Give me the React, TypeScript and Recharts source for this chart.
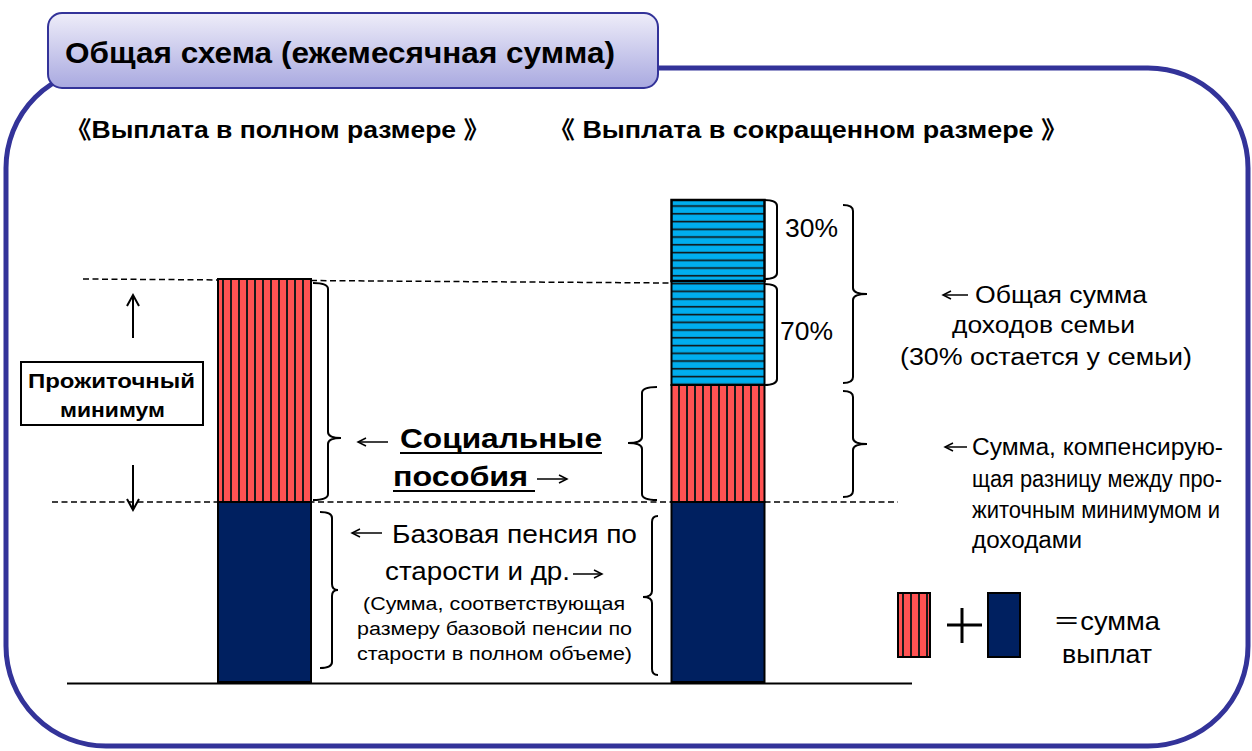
import React from 'react';
import { Bar, BarChart, XAxis, YAxis } from 'recharts';

// две схемы выплаты
const categories = ['Выплата в полном размере', 'Выплата в сокращенном размере'];
// высоты сегментов столбцов (условные единицы, снизу вверх)
const basePension = [180, 180];
const socialBenefit = [223, 117];
const familyIncome70 = [0, 104];
const familyIncome30 = [0, 81];

const rows = categories.map((name, i) => ({
  name,
  base: basePension[i],
  social: socialBenefit[i],
  fam70: familyIncome70[i] || null,
  fam30: familyIncome30[i] || null,
}));

const W = 1252;
const H = 751;
const MARGIN = { top: 182, right: 307, bottom: 69, left: 38 };
const Y_MAX = 500;
const plotH = H - MARGIN.top - MARGIN.bottom;
const yOf = (v: number) => MARGIN.top + plotH * (1 - v / Y_MAX);

const FONT = "'Liberation Sans', Arial, 'Noto Sans CJK JP', sans-serif";
const NAVY = '#002060';
const FRAME = '#333399';

type TProps = { x: number; y: number; w?: number; size: number; bold?: boolean; children: React.ReactNode };
function T({ x, y, w, size, bold, children }: TProps) {
  return (
    <text
      x={x}
      y={y}
      fontSize={size}
      fontWeight={bold ? 'bold' : 'normal'}
      fontFamily={FONT}
      fill="#000"
      textLength={w}
      lengthAdjust={w ? 'spacingAndGlyphs' : undefined}
    >
      {children}
    </text>
  );
}

// горизонтальная стрелка
function HArrow({ x1, x2, y }: { x1: number; x2: number; y: number }) {
  const d = x2 > x1 ? 1 : -1;
  return (
    <g stroke="#000" strokeWidth={1.5} fill="none">
      <line x1={x1} y1={y} x2={x2} y2={y} />
      <path d={`M${x2 - d * 8},${y - 4} L${x2},${y} L${x2 - d * 8},${y + 4}`} />
    </g>
  );
}

function VArrow({ x, y1, y2 }: { x: number; y1: number; y2: number }) {
  const d = y2 > y1 ? 1 : -1;
  return (
    <g stroke="#000" strokeWidth={2} fill="none">
      <line x1={x} y1={y1} x2={x} y2={y2} />
      <path d={`M${x - 6},${y2 - d * 11} L${x},${y2} L${x + 6},${y2 - d * 11}`} />
    </g>
  );
}

// фигурная скобка: dir=1 "}" (носик вправо), dir=-1 "{"
function Brace({ x, y1, y2, ty, dir, hook, tip }: { x: number; y1: number; y2: number; ty?: number; dir: number; hook: number; tip: number }) {
  const r = 6;
  let d = `M${x - dir * hook},${y1} Q${x},${y1} ${x},${y1 + r}`;
  if (tip > 0 && ty !== undefined) {
    d += ` L${x},${ty - r} Q${x},${ty} ${x + dir * tip},${ty} Q${x},${ty} ${x},${ty + r}`;
  }
  d += ` L${x},${y2 - r} Q${x},${y2} ${x - dir * hook},${y2}`;
  return <path d={d} stroke="#000" strokeWidth={2} fill="none" />;
}

export default function App() {
  const baseTop = yOf(basePension[0]);
  const leftTop = yOf(basePension[0] + socialBenefit[0]);
  const rightRedTop = yOf(basePension[1] + socialBenefit[1]);
  const right70Top = yOf(basePension[1] + socialBenefit[1] + familyIncome70[1]);
  const rightTop = yOf(basePension[1] + socialBenefit[1] + familyIncome70[1] + familyIncome30[1]);
  const floor = yOf(0);

  return (
    <div style={{ position: 'absolute', left: 0, top: 0, width: W, height: H, background: '#fff' }}>
      <svg width={W} height={H} style={{ position: 'absolute', left: 0, top: 0 }}>
        <defs>
          <pattern id="redStripes" patternUnits="userSpaceOnUse" width={8} height={10}>
            <rect width={8} height={10} fill="#ff5252" />
            <rect x={6} width={2} height={10} fill="#1a1a1a" />
          </pattern>
          <pattern id="blueLines" patternUnits="userSpaceOnUse" width={10} height={7.75}>
            <rect width={10} height={7.75} fill="#00aeef" />
            <rect y={3.75} width={10} height={1.6} fill="#111" />
          </pattern>
          <linearGradient id="tabGrad" x1="0" y1="0" x2="0" y2="1">
            <stop offset="0" stopColor="#eeedf9" />
            <stop offset="1" stopColor="#a9a9e0" />
          </linearGradient>
        </defs>

        {/* рамка */}
        <rect x={6} y={68} width={1242} height={678} rx={100} ry={100} fill="none" stroke={FRAME} strokeWidth={5} />
        <rect x={48} y={13} width={610} height={75} rx={14} fill="url(#tabGrad)" stroke={FRAME} strokeWidth={2} />
        <T x={65} y={63} w={550} size={30} bold>Общая схема (ежемесячная сумма)</T>

        <T x={65} y={138} w={425} size={24} bold>《Выплата в полном размере 》</T>
        <T x={548} y={138} w={520} size={24} bold>《 Выплата в сокращенном размере 》</T>

        {/* пунктирные линии и основание */}
        <line x1={83} y1={leftTop} x2={671} y2={right70Top + 2} stroke="#000" strokeWidth={1.5} strokeDasharray="6 3.5" />
        <line x1={52} y1={baseTop} x2={898} y2={baseTop} stroke="#000" strokeWidth={1.5} strokeDasharray="6 3.5" />
        <line x1={67} y1={floor + 1.5} x2={912} y2={floor + 1.5} stroke="#000" strokeWidth={2} />

        {/* прожиточный минимум */}
        <VArrow x={133} y1={338} y2={295} />
        <VArrow x={133} y1={465} y2={510} />
        <rect x={21} y={362} width={182} height={63} fill="#fff" stroke="#000" strokeWidth={2} />
        <T x={28} y={388} w={167} size={21} bold>Прожиточный</T>
        <T x={60} y={417} w={105} size={21} bold>минимум</T>

        {/* скобки */}
        <Brace x={328} y1={leftTop + 4} y2={baseTop - 2} ty={438} dir={1} hook={15} tip={13} />
        <Brace x={642} y1={rightRedTop + 2} y2={baseTop - 2} ty={443} dir={-1} hook={15} tip={14} />
        <Brace x={777} y1={rightTop} y2={right70Top - 2} dir={1} hook={13} tip={0} />
        <Brace x={777} y1={right70Top + 3} y2={rightRedTop} dir={1} hook={13} tip={0} />
        <Brace x={853} y1={rightTop + 5} y2={rightRedTop - 2} ty={294} dir={1} hook={10} tip={14} />
        <Brace x={853} y1={rightRedTop + 6} y2={baseTop - 5} ty={444} dir={1} hook={10} tip={14} />
        <Brace x={332} y1={512} y2={668} ty={590} dir={1} hook={12} tip={6} />
        <Brace x={652} y1={516} y2={675} ty={597} dir={-1} hook={6} tip={9} />

        <T x={785} y={237} w={53} size={26}>30%</T>
        <T x={780} y={340} w={53} size={26}>70%</T>

        {/* социальные пособия */}
        <HArrow x1={388} x2={358} y={442} />
        <T x={400} y={448} w={202} size={28} bold>Социальные</T>
        <rect x={400} y={452} width={202} height={2} fill="#000" />
        <T x={393} y={486} w={135} size={28} bold>пособия</T>
        <rect x={393} y={490} width={142} height={2} fill="#000" />
        <HArrow x1={537} x2={567} y={479} />

        {/* базовая пенсия */}
        <HArrow x1={382} x2={352} y={533} />
        <T x={392} y={543} w={245} size={26}>Базовая пенсия по</T>
        <T x={385} y={580} w={185} size={26}>старости и др.</T>
        <HArrow x1={573} x2={602} y={574} />
        <T x={363} y={610} w={262} size={18}>(Сумма, соответствующая</T>
        <T x={357} y={635} w={275} size={18}>размеру базовой пенсии по</T>
        <T x={357} y={660} w={275} size={18}>старости в полном объеме)</T>

        {/* доходы семьи */}
        <HArrow x1={968} x2={943} y={295} />
        <T x={975} y={303} w={172} size={23}>Общая сумма</T>
        <T x={952} y={333} w={183} size={23}>доходов семьи</T>
        <T x={900} y={365} w={292} size={23}>(30% остается у семьи)</T>

        <HArrow x1={967} x2={945} y={447} />
        <T x={972} y={455} w={251} size={23}>Сумма, компенсирую-</T>
        <T x={972} y={487} w={250} size={23}>щая разницу между про-</T>
        <T x={972} y={518} w={248} size={23}>житочным минимумом и</T>
        <T x={972} y={548} w={110} size={23}>доходами</T>

        {/* легенда */}
        <rect x={898} y={593} width={32} height={64} fill="url(#redStripes)" stroke="#000" strokeWidth={2} />
        <g stroke="#000" strokeWidth={3}>
          <line x1={947} y1={625} x2={982} y2={625} />
          <line x1={962} y1={608} x2={962} y2={643} />
        </g>
        <rect x={988} y={593} width={32} height={64} fill={NAVY} stroke="#000" strokeWidth={2} />
        <T x={1053} y={630} w={107} size={25}>＝сумма</T>
        <T x={1062} y={663} w={90} size={25}>выплат</T>
      </svg>

      <div style={{ position: 'absolute', left: 0, top: 0 }}>
        <BarChart width={W} height={H} data={rows} margin={MARGIN} barSize={93}>
          <XAxis dataKey="name" hide />
          <YAxis hide domain={[0, Y_MAX]} />
          <Bar dataKey="base" stackId="s" fill={NAVY} stroke="#000" strokeWidth={2} isAnimationActive={false} />
          <Bar dataKey="social" stackId="s" fill="url(#redStripes)" stroke="#000" strokeWidth={2} isAnimationActive={false} />
          <Bar dataKey="fam70" stackId="s" fill="url(#blueLines)" stroke="#000" strokeWidth={2} isAnimationActive={false} />
          <Bar dataKey="fam30" stackId="s" fill="url(#blueLines)" stroke="#000" strokeWidth={2.5} isAnimationActive={false} />
        </BarChart>
      </div>
    </div>
  );
}
